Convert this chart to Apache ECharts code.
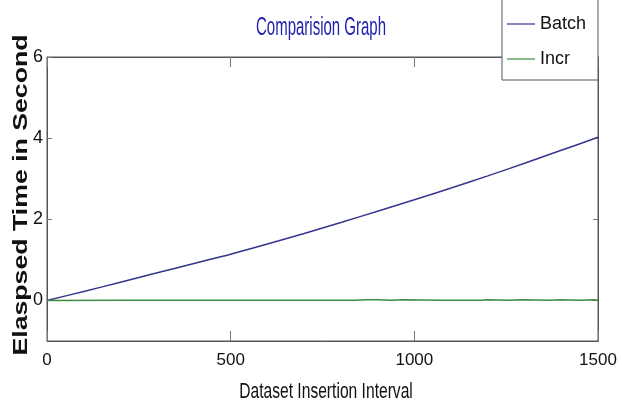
<!DOCTYPE html>
<html>
<head>
<meta charset="utf-8">
<script src="https://cdn.jsdelivr.net/npm/echarts@6/dist/echarts.min.js"></script>
<style>
html,body{margin:0;padding:0;background:#fff;}
#chart{width:622px;height:408px;}
</style>
</head>
<body>
<div id="chart"></div>
<script>
var titleText = 'Comparision Graph';
var xName = 'Dataset Insertion Interval';
var yName = 'Elaspsed Time in Second';
var seriesNames = ['Batch', 'Incr'];
var yTicks = [0, 2, 4, 6];

var batchX = [0, 100, 200, 300, 400, 500, 600, 700, 800, 900, 1000, 1100, 1200, 1300, 1400, 1500];
var batchY = [0, 0.22, 0.45, 0.68, 0.91, 1.14, 1.39, 1.65, 1.92, 2.20, 2.48, 2.77, 3.07, 3.38, 3.70, 4.02];

var incrX = [0, 237, 240, 243, 321, 324, 327, 449, 452, 455, 626, 629, 632, 841, 844, 870, 900, 903, 936, 939, 969, 972, 1072, 1075, 1078, 1130, 1133, 1136, 1181, 1184, 1200, 1203, 1257, 1260, 1293, 1296, 1366, 1369, 1397, 1400, 1453, 1456, 1486, 1489, 1500];
var incrY = [0, 0.003, 0.015, 0.003, 0.003, 0.015, 0.003, 0.003, 0.015, 0.003, 0.003, 0.015, 0.003, 0.003, 0.015, 0.015, 0.015, 0.003, 0.003, 0.015, 0.015, 0.003, 0.003, 0.015, 0.003, 0.003, 0.015, 0.003, 0.003, 0.015, 0.015, 0.003, 0.003, 0.015, 0.015, 0.003, 0.003, 0.015, 0.015, 0.003, 0.003, 0.015, 0.015, 0.003, 0.003];

function pairs(xs, ys) { return xs.map(function (x, i) { return [x, ys[i]]; }); }

var sans = "'Liberation Sans', Arial, sans-serif";
var axisColor = '#555';
var tickColor = '#777';

var chart = echarts.init(document.getElementById('chart'));
chart.setOption({
  animation: false,
  backgroundColor: '#fff',
  legend: {
    z: 101,
    orient: 'vertical',
    left: 507,
    top: 14,
    padding: 0,
    icon: 'rect',
    itemWidth: 28,
    itemHeight: 1.2,
    itemGap: 15,
    data: seriesNames,
    textStyle: { color: '#111', fontFamily: sans, fontSize: 18, lineHeight: 20 }
  },
  graphic: [{
    type: 'rect',
    z: 100,
    shape: { x: 502, y: -5, width: 96, height: 85 },
    style: { fill: '#fff', stroke: axisColor, lineWidth: 1 }
  }, {
    type: 'text',
    z: 100,
    x: 321, y: 28,
    scaleX: 0.6,
    style: { text: titleText, font: 'normal 25px ' + sans, fill: '#2222b0', align: 'center', verticalAlign: 'middle' }
  }, {
    type: 'text',
    z: 100,
    x: 326, y: 392,
    scaleX: 0.71,
    style: { text: xName, font: 'normal 22px ' + sans, fill: '#111', align: 'center', verticalAlign: 'middle' }
  }, {
    type: 'text',
    z: 100,
    x: 21, y: 195,
    rotation: Math.PI / 2,
    scaleX: 1.27,
    style: { text: yName, font: 'bold 21px ' + sans, fill: '#111', align: 'center', verticalAlign: 'middle' }
  }],
  grid: {
    left: 47, right: 24, top: 57, bottom: 67,
    show: true, borderColor: axisColor, borderWidth: 1
  },
  xAxis: [{
    type: 'value', min: 0, max: 1500, interval: 500, position: 'bottom',
    axisLine: { show: true, onZero: false, lineStyle: { color: axisColor } },
    axisTick: { show: true, inside: true, length: 10, lineStyle: { color: tickColor } },
    axisLabel: { color: '#111', fontFamily: sans, fontSize: 17, margin: 11, formatter: function (v) { return String(v); } },
    splitLine: { show: false }
  }, {
    type: 'value', min: 0, max: 1500, interval: 500, position: 'top',
    axisLine: { show: true, onZero: false, lineStyle: { color: axisColor } },
    axisTick: { show: true, inside: true, length: 10, lineStyle: { color: tickColor } },
    axisLabel: { show: false },
    splitLine: { show: false }
  }],
  yAxis: [{
    type: 'value', min: -1, max: 6, position: 'left',
    axisLine: { show: true, onZero: false, lineStyle: { color: axisColor } },
    axisTick: { show: true, inside: true, length: 5, customValues: yTicks, lineStyle: { color: tickColor } },
    axisLabel: { color: '#111', fontFamily: sans, fontSize: 18, margin: 4, customValues: yTicks },
    splitLine: { show: false }
  }, {
    type: 'value', min: -1, max: 6, position: 'right',
    axisLine: { show: true, onZero: false, lineStyle: { color: axisColor } },
    axisTick: { show: true, inside: true, length: 5, customValues: yTicks, lineStyle: { color: tickColor } },
    axisLabel: { show: false },
    splitLine: { show: false }
  }],
  series: [{
    name: seriesNames[0], type: 'line', symbol: 'none', smooth: 0.3,
    xAxisIndex: 0, yAxisIndex: 0,
    lineStyle: { color: '#35358f', width: 1.5 },
    itemStyle: { color: '#35358f' },
    data: pairs(batchX, batchY)
  }, {
    name: seriesNames[1], type: 'line', symbol: 'none',
    xAxisIndex: 0, yAxisIndex: 0,
    lineStyle: { color: '#3d8a45', width: 1.5 },
    itemStyle: { color: '#3d8a45' },
    data: pairs(incrX, incrY)
  }]
});
</script>
</body>
</html>
